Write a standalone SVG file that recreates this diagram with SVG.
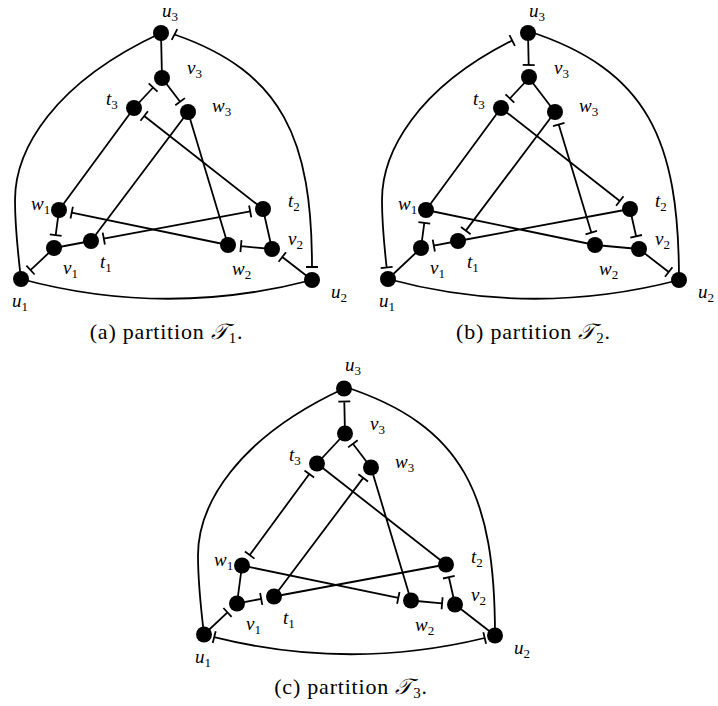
<svg xmlns="http://www.w3.org/2000/svg" width="718" height="706" viewBox="0 0 718 706">
<defs>
<style>
.e{stroke:#000;stroke-width:1.8;fill:none;stroke-linecap:butt}
.n{fill:#000}
.lbl{font-family:"Liberation Serif",serif;font-style:italic;font-size:19px;fill:#000}
.sub{font-style:normal;font-size:13px}
.cap{font-family:"Liberation Serif",serif;font-size:22px;letter-spacing:0.8px;fill:#000}
.cal{font-family:"DejaVu Serif","DejaVu Sans",serif;font-style:italic}
</style>
</defs>
<rect width="718" height="706" fill="#fff"/>

<!-- Panel (a) -->
<g id="panel-a">
<g id="a-connectors">
<path class="e" d="M21,279 C18,254 15,225 15,200 C15,150 53,83 161,33"/>
<path class="e" d="M174.5,34.5 C283,72 312,140 312,267 M171.7,39.8 L177.3,29.2 M306,267 L318,267"/>
<path class="e" d="M21,279 Q166,318 312,280"/>
<path class="e" d="M161,33 L162,78 M134,108 L59,210 M188,112 L91,241 M188,112 L228,245 M54,248 L91,241 M263,209 L272,249"/>
<path class="e" d="M134,108 L153.1,87.5 M148.7,83.4 L157.5,91.6"/>
<path class="e" d="M162,78 L180.1,101.7 M175.3,105.3 L184.9,98.1"/>
<path class="e" d="M263,209 L144.2,116 M147.9,111.3 L140.5,120.7"/>
<path class="e" d="M59,210 L55.7,235.1 M49.8,234.3 L61.6,235.9"/>
<path class="e" d="M228,245 L71.7,212.6 M72.9,206.8 L70.5,218.5"/>
<path class="e" d="M103.8,238.6 L250.2,211.4 M104.9,244.5 L102.7,232.7 M251.3,217.3 L249.1,205.5"/>
<path class="e" d="M54,248 L30.5,270.1 M26.4,265.7 L34.6,274.5"/>
<path class="e" d="M272,249 L240.9,246.2 M241.5,240.2 L240.4,252.2"/>
<path class="e" d="M312,280 L282.3,257 M286,252.2 L278.6,261.7"/>
</g>
<g id="a-u3"><circle class="n" cx="161" cy="33" r="8"/><text class="lbl" x="162" y="17">u<tspan class="sub" dy="4">3</tspan></text></g>
<g id="a-v3"><circle class="n" cx="162" cy="78" r="8"/><text class="lbl" x="187" y="74">v<tspan class="sub" dy="4">3</tspan></text></g>
<g id="a-t3"><circle class="n" cx="134" cy="108" r="8"/><text class="lbl" x="106" y="105">t<tspan class="sub" dy="4">3</tspan></text></g>
<g id="a-w3"><circle class="n" cx="188" cy="112" r="8"/><text class="lbl" x="212" y="112">w<tspan class="sub" dy="4">3</tspan></text></g>
<g id="a-w1"><circle class="n" cx="59" cy="210" r="8"/><text class="lbl" x="31" y="210">w<tspan class="sub" dy="4">1</tspan></text></g>
<g id="a-t2"><circle class="n" cx="263" cy="209" r="8"/><text class="lbl" x="288" y="207">t<tspan class="sub" dy="4">2</tspan></text></g>
<g id="a-v2"><circle class="n" cx="272" cy="249" r="8"/><text class="lbl" x="288" y="245">v<tspan class="sub" dy="4">2</tspan></text></g>
<g id="a-t1"><circle class="n" cx="91" cy="241" r="8"/><text class="lbl" x="100" y="268">t<tspan class="sub" dy="4">1</tspan></text></g>
<g id="a-v1"><circle class="n" cx="54" cy="248" r="8"/><text class="lbl" x="63" y="274">v<tspan class="sub" dy="4">1</tspan></text></g>
<g id="a-w2"><circle class="n" cx="228" cy="245" r="8"/><text class="lbl" x="232" y="275">w<tspan class="sub" dy="4">2</tspan></text></g>
<g id="a-u1"><circle class="n" cx="21" cy="279" r="8"/><text class="lbl" x="12" y="307">u<tspan class="sub" dy="4">1</tspan></text></g>
<g id="a-u2"><circle class="n" cx="312" cy="280" r="8"/><text class="lbl" x="331" y="298">u<tspan class="sub" dy="4">2</tspan></text></g>
</g>
<text id="cap-a" class="cap" x="166.5" y="339" text-anchor="middle">(a) partition <tspan class="cal">𝒯</tspan><tspan font-size="15" dy="4">1</tspan><tspan dy="-4">.</tspan></text>

<!-- Panel (b) -->
<g id="panel-b" transform="translate(367,0)">
<g id="b-connectors">
<path class="e" d="M19.66,267.5 C17.17,245.4 15,221.25 15,200 C15,152.5 49.3,88.7 145.2,40.5 M13.7,268.2 L25.6,266.8 M147.9,45.9 L142.5,35.1"/>
<path class="e" d="M161,31 C281,70 312,140 312,280"/>
<path class="e" d="M21,279 Q166,318 312,280"/>
<path class="e" d="M162,78 L188,112 M134,108 L59,210 M59,210 L228,245 M91,241 L263,209 M54,248 L21,279 M228,245 L272,249"/>
<path class="e" d="M161,33 L161.7,65 M155.7,64.9 L167.7,65.1"/>
<path class="e" d="M162,78 L142.9,98.5 M138.5,94.4 L147.3,102.6"/>
<path class="e" d="M134,108 L252.8,201 M249.1,205.7 L256.5,196.3"/>
<path class="e" d="M188,112 L98.8,230.6 M94,227 L103.6,234.2"/>
<path class="e" d="M191.7,124.5 L224.3,232.6 M186,126.2 L197.5,122.8 M218.5,234.3 L230,230.9"/>
<path class="e" d="M54,248 L57.3,222.9 M63.2,223.7 L51.4,222.1"/>
<path class="e" d="M91,241 L66.8,245.6 M65.7,239.7 L67.9,251.5"/>
<path class="e" d="M263,209 L269.1,236.3 M263.3,237.6 L275,235"/>
<path class="e" d="M272,249 L301.7,272 M298,276.8 L305.4,267.3"/>
</g>
<g id="b-u3"><circle class="n" cx="161" cy="33" r="8"/><text class="lbl" x="162" y="17">u<tspan class="sub" dy="4">3</tspan></text></g>
<g id="b-v3"><circle class="n" cx="162" cy="77" r="8"/><text class="lbl" x="187" y="74">v<tspan class="sub" dy="4">3</tspan></text></g>
<g id="b-t3"><circle class="n" cx="134" cy="108" r="8"/><text class="lbl" x="106" y="105">t<tspan class="sub" dy="4">3</tspan></text></g>
<g id="b-w3"><circle class="n" cx="188" cy="112" r="8"/><text class="lbl" x="212" y="112">w<tspan class="sub" dy="4">3</tspan></text></g>
<g id="b-w1"><circle class="n" cx="59" cy="210" r="8"/><text class="lbl" x="31" y="210">w<tspan class="sub" dy="4">1</tspan></text></g>
<g id="b-t2"><circle class="n" cx="263" cy="209" r="8"/><text class="lbl" x="288" y="207">t<tspan class="sub" dy="4">2</tspan></text></g>
<g id="b-v2"><circle class="n" cx="272" cy="249" r="8"/><text class="lbl" x="288" y="245">v<tspan class="sub" dy="4">2</tspan></text></g>
<g id="b-t1"><circle class="n" cx="91" cy="241" r="8"/><text class="lbl" x="100" y="268">t<tspan class="sub" dy="4">1</tspan></text></g>
<g id="b-v1"><circle class="n" cx="54" cy="248" r="8"/><text class="lbl" x="63" y="274">v<tspan class="sub" dy="4">1</tspan></text></g>
<g id="b-w2"><circle class="n" cx="228" cy="245" r="8"/><text class="lbl" x="232" y="275">w<tspan class="sub" dy="4">2</tspan></text></g>
<g id="b-u1"><circle class="n" cx="21" cy="279" r="8"/><text class="lbl" x="12" y="307">u<tspan class="sub" dy="4">1</tspan></text></g>
<g id="b-u2"><circle class="n" cx="312" cy="280" r="8"/><text class="lbl" x="331" y="298">u<tspan class="sub" dy="4">2</tspan></text></g>
</g>
<text id="cap-b" class="cap" x="533.5" y="339" text-anchor="middle">(b) partition <tspan class="cal">𝒯</tspan><tspan font-size="15" dy="4">2</tspan><tspan dy="-4">.</tspan></text>

<!-- Panel (c) -->
<g id="panel-c" transform="translate(183,355.5)">
<g id="c-connectors">
<path class="e" d="M21,279 C18,254 15,225 15,200 C15,150 53,83 161,33"/>
<path class="e" d="M161,31 C281,70 312,140 312,280"/>
<path class="e" d="M31.2,281.6 Q166,315.4 301.7,282.5 M29.7,287.4 L32.7,275.8 M303.1,288.3 L300.3,276.7"/>
<path class="e" d="M162,78 L134,108 M134,108 L263,209 M188,112 L228,245 M59,210 L54,248 M91,241 L263,209 M272,249 L312,280"/>
<path class="e" d="M162,78 L161.3,46 M155.3,46.1 L167.3,45.9"/>
<path class="e" d="M188,112 L169.9,88.3 M174.7,84.7 L165.1,91.9"/>
<path class="e" d="M126.3,118.5 L66.7,199.5 M121.5,115 L131.1,122 M61.9,196 L71.5,203.1"/>
<path class="e" d="M91,241 L180.2,122.4 M185,126 L175.4,118.8"/>
<path class="e" d="M59,210 L215.3,242.4 M214.1,248.3 L216.5,236.5"/>
<path class="e" d="M54,248 L78.2,243.4 M79.3,249.3 L77.1,237.5"/>
<path class="e" d="M21,279 L44.5,256.9 M48.6,261.3 L40.4,252.5"/>
<path class="e" d="M228,245 L259.1,247.8 M258.6,253.8 L259.6,241.8"/>
<path class="e" d="M272,249 L265.9,221.7 M271.7,220.4 L260,223"/>
</g>
<g id="c-u3"><circle class="n" cx="161" cy="33" r="8"/><text class="lbl" x="162" y="15">u<tspan class="sub" dy="4">3</tspan></text></g>
<g id="c-v3"><circle class="n" cx="162" cy="78" r="8"/><text class="lbl" x="187" y="74">v<tspan class="sub" dy="4">3</tspan></text></g>
<g id="c-t3"><circle class="n" cx="134" cy="108" r="8"/><text class="lbl" x="106" y="105">t<tspan class="sub" dy="4">3</tspan></text></g>
<g id="c-w3"><circle class="n" cx="188" cy="112" r="8"/><text class="lbl" x="212" y="112">w<tspan class="sub" dy="4">3</tspan></text></g>
<g id="c-w1"><circle class="n" cx="59" cy="210" r="8"/><text class="lbl" x="31" y="210">w<tspan class="sub" dy="4">1</tspan></text></g>
<g id="c-t2"><circle class="n" cx="263" cy="209" r="8"/><text class="lbl" x="288" y="207">t<tspan class="sub" dy="4">2</tspan></text></g>
<g id="c-v2"><circle class="n" cx="272" cy="249" r="8"/><text class="lbl" x="288" y="245">v<tspan class="sub" dy="4">2</tspan></text></g>
<g id="c-t1"><circle class="n" cx="91" cy="241" r="8"/><text class="lbl" x="100" y="268">t<tspan class="sub" dy="4">1</tspan></text></g>
<g id="c-v1"><circle class="n" cx="54" cy="248" r="8"/><text class="lbl" x="63" y="274">v<tspan class="sub" dy="4">1</tspan></text></g>
<g id="c-w2"><circle class="n" cx="228" cy="245" r="8"/><text class="lbl" x="232" y="275">w<tspan class="sub" dy="4">2</tspan></text></g>
<g id="c-u1"><circle class="n" cx="21" cy="279" r="8"/><text class="lbl" x="12" y="307">u<tspan class="sub" dy="4">1</tspan></text></g>
<g id="c-u2"><circle class="n" cx="312" cy="280" r="8"/><text class="lbl" x="331" y="298">u<tspan class="sub" dy="4">2</tspan></text></g>
</g>
<text id="cap-c" class="cap" x="351" y="694" text-anchor="middle">(c) partition <tspan class="cal">𝒯</tspan><tspan font-size="15" dy="4">3</tspan><tspan dy="-4">.</tspan></text>
</svg>
